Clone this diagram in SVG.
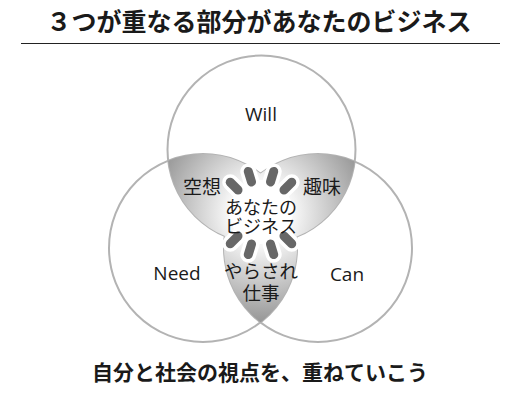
<svg xmlns="http://www.w3.org/2000/svg" width="514" height="401" viewBox="0 0 514 401">
  <style>
    .ring{fill:none;stroke:#b3b3b3;stroke-width:2}
    .lens{fill:url(#gLens)}
    .jp{font-family:"Noto Sans CJK JP","Noto Sans",sans-serif;fill:#1a1a1a;text-anchor:middle}
    .en{font-family:"Open Sans","Noto Sans",sans-serif;fill:#1a1a1a;text-anchor:middle;font-size:19px}
    .lbl{font-size:19px}
    .ray{fill:#676767;stroke:#fff;stroke-width:7;paint-order:stroke}
  </style>
  <defs>
    <radialGradient id="gLens" gradientUnits="userSpaceOnUse" cx="261" cy="213" r="112">
      <stop offset="0" stop-color="#ffffff"/>
      <stop offset="0.3" stop-color="#f6f6f6"/>
      <stop offset="1" stop-color="#939393"/>
    </radialGradient>
    <clipPath id="cTop"><circle cx="261.5" cy="149.5" r="94"/></clipPath>
    <clipPath id="cLeft"><circle cx="203" cy="248" r="94"/></clipPath>
    <rect id="cap" x="-4.5" y="-10" width="9" height="20" rx="4.5"/>
  </defs>
  <rect width="514" height="401" fill="#fff"/>

  <g id="title">
    <text class="jp" x="259" y="31" font-size="25" font-weight="700">３つが重なる部分があなたのビジネス</text>
    <line x1="21" y1="43.5" x2="500" y2="43.5" stroke="#222" stroke-width="1"/>
  </g>

  <g id="circles">
    <circle id="will-circle" class="ring" cx="261.5" cy="149.5" r="94"/>
    <circle id="need-circle" class="ring" cx="203" cy="248" r="94"/>
    <circle id="can-circle" class="ring" cx="318" cy="248" r="94"/>
  </g>

  <g id="overlaps">
    <circle id="kuso-area" class="lens" cx="203" cy="248" r="94" clip-path="url(#cTop)"/>
    <circle id="shumi-area" class="lens" cx="318" cy="248" r="94" clip-path="url(#cTop)"/>
    <circle id="yarasare-area" class="lens" cx="318" cy="248" r="94" clip-path="url(#cLeft)"/>
  </g>

  <g id="business-core">
    <circle cx="261" cy="212" r="32" fill="#fff"/>
    <g transform="translate(261,213)">
      <use href="#cap" class="ray" transform="rotate(-45) translate(0,-38)"/>
      <use href="#cap" class="ray" transform="rotate(-17) translate(0,-38)"/>
      <use href="#cap" class="ray" transform="rotate(17) translate(0,-38)"/>
      <use href="#cap" class="ray" transform="rotate(45) translate(0,-38)"/>
      <use href="#cap" class="ray" transform="rotate(135) translate(0,-38)"/>
      <use href="#cap" class="ray" transform="rotate(163) translate(0,-38)"/>
      <use href="#cap" class="ray" transform="rotate(197) translate(0,-38)"/>
      <use href="#cap" class="ray" transform="rotate(225) translate(0,-38)"/>
    </g>
    <text class="jp" font-size="18"><tspan x="261" y="213.5">あなたの</tspan><tspan x="261" y="233">ビジネス</tspan></text>
  </g>

  <g id="will"><text class="en" x="261" y="121">Will</text></g>
  <g id="need"><text class="en" x="177" y="280">Need</text></g>
  <g id="can"><text class="en" x="347" y="281">Can</text></g>
  <g id="kuso"><text class="jp lbl" x="202" y="193.5">空想</text></g>
  <g id="shumi"><text class="jp lbl" x="322" y="193.5">趣味</text></g>
  <g id="yarasare">
    <text class="jp" font-size="18.5"><tspan x="261" y="278">やらされ</tspan><tspan x="261" y="300">仕事</tspan></text>
  </g>

  <g id="caption">
    <text class="jp" x="260" y="380" font-size="21" font-weight="700">自分と社会の視点を、重ねていこう</text>
  </g>
</svg>
